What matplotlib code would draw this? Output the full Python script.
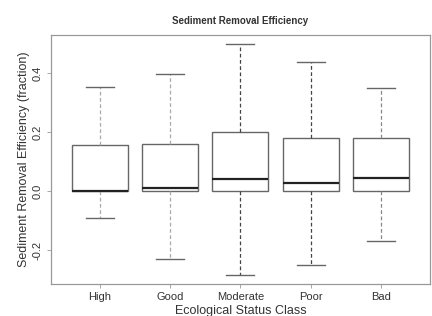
import matplotlib
matplotlib.use("Agg")
import matplotlib.pyplot as plt

plt.rcParams['font.family'] = ['Liberation Sans', 'DejaVu Sans']

# data
classes = ['High', 'Good', 'Moderate', 'Poor', 'Bad']
whisker_low = [-0.09, -0.23, -0.285, -0.25, -0.168]
q1 = [0.0, 0.0, 0.0, 0.0, 0.0]
median = [0.0, 0.01, 0.042, 0.026, 0.046]
q3 = [0.158, 0.161, 0.2, 0.181, 0.18]
whisker_high = [0.353, 0.397, 0.499, 0.438, 0.348]
whisker_colors = ['#aaaaaa', '#aaaaaa', '#444444', '#444444', '#888888']

stats = []
for i, name in enumerate(classes):
    stats.append({'label': name, 'whislo': whisker_low[i], 'q1': q1[i], 'med': median[i],
                  'q3': q3[i], 'whishi': whisker_high[i], 'fliers': []})

fig = plt.figure(figsize=(4.32, 3.16), dpi=100)
ax = fig.add_axes([0.118, 0.101, 0.877, 0.788])

positions = list(range(1, len(classes) + 1))
bp = ax.bxp(stats, positions=positions, widths=0.8, capwidths=0.4, patch_artist=True,
            boxprops=dict(facecolor='white', edgecolor='#666666', linewidth=1.0),
            medianprops=dict(color='#222222', linewidth=1.6),
            whiskerprops=dict(linestyle=(0, (3, 2)), linewidth=0.9),
            capprops=dict(color='#666666', linewidth=1.0))

for i, c in enumerate(whisker_colors):
    bp['whiskers'][2 * i].set_color(c)
    bp['whiskers'][2 * i + 1].set_color(c)

ax.set_xlim(0.3, 5.7)
ax.set_ylim(-0.315, 0.529)
ax.set_yticks([-0.2, 0.0, 0.2, 0.4])
ax.set_yticklabels(['-0.2', '0.0', '0.2', '0.4'], rotation=90, va='center')
ax.set_xticks(positions)
ax.set_xticklabels(classes)
ax.tick_params(axis='both', labelsize=8, colors='#333333', length=3, width=0.6,
               color='#999999', pad=3)

for s in ax.spines.values():
    s.set_color('#999999')
    s.set_linewidth(0.9)

ax.set_title('Sediment Removal Efficiency', fontsize=7, fontweight='bold',
             color='#333333', pad=8)
ax.set_xlabel('Ecological Status Class', fontsize=9, color='#333333', labelpad=2)
ax.set_ylabel('Sediment Removal Efficiency (fraction)', fontsize=9, color='#333333',
              labelpad=2)

plt.savefig('out.png', dpi=100)
plt.close()
